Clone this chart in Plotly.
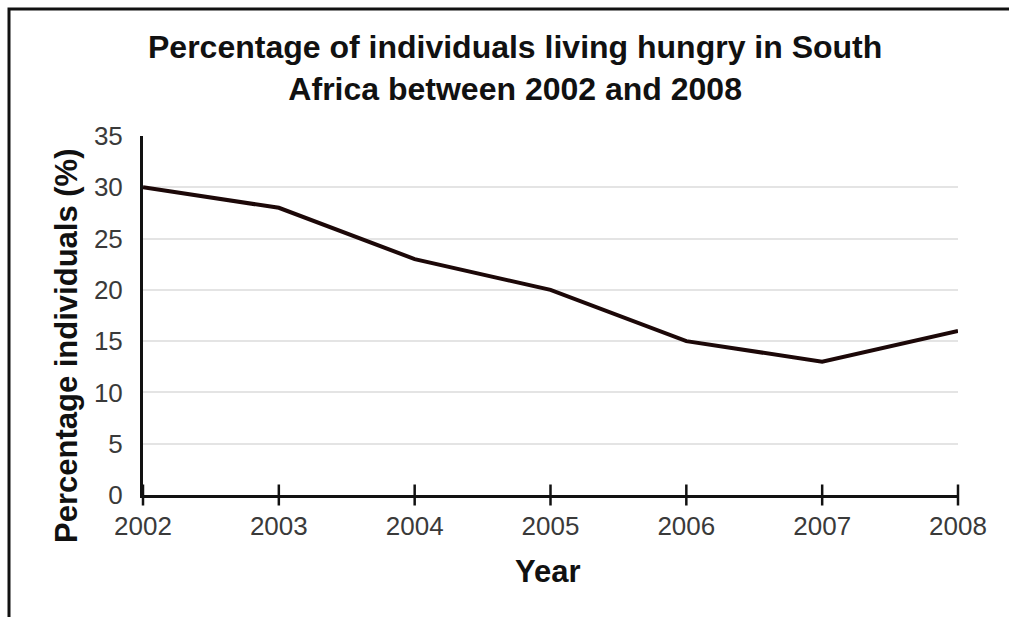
import plotly.graph_objects as go

years = [2002, 2003, 2004, 2005, 2006, 2007, 2008]
hungry_pct = [30, 28, 23, 20, 15, 13, 16]
y_ticks = [0, 5, 10, 15, 20, 25, 30, 35]

W, H = 1009, 617
L, R, T, B = 143, 51, 136, 122
pw, ph = W - L - R, H - T - B


def px(x):
    return (x - L) / pw


def py(y):
    return (H - B - y) / ph


fig = go.Figure()

fig.add_trace(go.Scatter(
    x=years, y=hungry_pct, mode="lines",
    line=dict(color="#1c0808", width=4),
    cliponaxis=False, hoverinfo="skip", showlegend=False,
))

# tick marks crossing the x axis line
fig.add_trace(go.Scatter(
    x=years, y=[0] * len(years), mode="markers",
    marker=dict(symbol="line-ns", size=15, line=dict(color="#111111", width=2.5)),
    cliponaxis=False, hoverinfo="skip", showlegend=False,
))

font = "Liberation Sans, Arial, sans-serif"

fig.update_layout(
    width=W, height=H,
    margin=dict(l=L, r=R, t=T, b=B),
    paper_bgcolor="white", plot_bgcolor="white",
    font=dict(family=font),
    xaxis=dict(
        range=[2002, 2008], tickvals=years, ticktext=[str(y) for y in years],
        showgrid=False, zeroline=False, showline=True, linecolor="#111111", linewidth=3,
        ticks="", tickfont=dict(size=26, color="#3a3a3a"), ticklabelstandoff=6,
    ),
    yaxis=dict(
        range=[0, 35], tickvals=y_ticks,
        showgrid=True, gridcolor="#e4e4e4", gridwidth=1.5, zeroline=False,
        showline=True, linecolor="#111111", linewidth=3,
        ticks="", tickfont=dict(size=26, color="#3a3a3a"), ticklabelstandoff=12,
    ),
    shapes=[dict(
        type="rect", xref="paper", yref="paper",
        x0=px(9), x1=px(1016), y0=py(640), y1=py(9),
        line=dict(color="#111111", width=3), fillcolor="rgba(0,0,0,0)", layer="below",
    )],
    annotations=[
        dict(
            text="<b>Percentage of individuals living hungry in South<br>Africa between 2002 and 2008</b>",
            xref="paper", yref="paper", x=px(515), y=py(68),
            xanchor="center", yanchor="middle", showarrow=False,
            font=dict(size=32, color="#111111", family=font),
        ),
        dict(
            text="<b>Percentage individuals (%)</b>",
            xref="paper", yref="paper", x=px(66), y=py(346),
            xanchor="center", yanchor="middle", showarrow=False, textangle=-90,
            font=dict(size=31, color="#111111", family=font),
        ),
        dict(
            text="<b>Year</b>",
            xref="paper", yref="paper", x=px(548), y=py(571),
            xanchor="center", yanchor="middle", showarrow=False,
            font=dict(size=31, color="#111111", family=font),
        ),
    ],
)

fig.write_html("out.html")
